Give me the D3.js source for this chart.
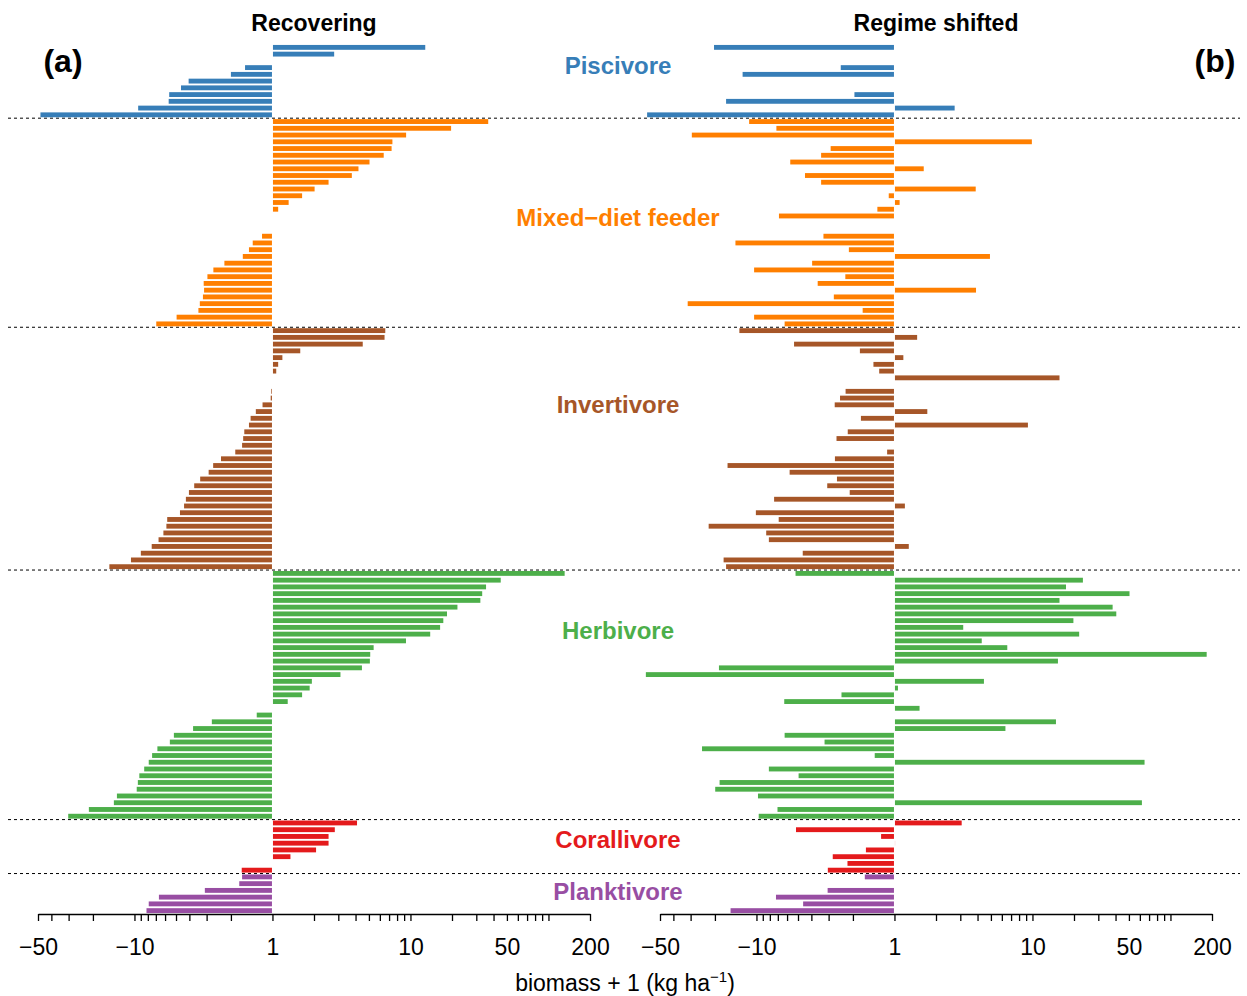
<!DOCTYPE html>
<html>
<head>
<meta charset="utf-8">
<script src="https://d3js.org/d3.v7.min.js"></script>
<style>
  body { margin: 0; background: #fff; }
  text { font-family: "Liberation Sans", Arial, Helvetica, sans-serif; }
</style>
</head>
<body>
<svg id="chart" width="1247" height="996"></svg>
<script>
// biomass + 1 values, one row per species (1 = no change, no bar)
const groupNames = ["Piscivore", "Mixed\u2212diet feeder", "Invertivore", "Herbivore", "Corallivore", "Planktivore"];
const groupColors = ["#377EB8", "#FF7F00", "#A65628", "#4DAF4A", "#E41A1C", "#984EA3"];

const piscivoreRec = [12.8, 2.8, 1, -1.58, -2.0, -4.05, -4.6, -5.6, -5.65, -9.4, -48];
const piscivoreShift = [-20.3, 1, 1, -2.45, -12.6, 1, 1, -1.95, -16.6, 2.73, -62];

const mixedRec = [36.6, 19.7, 9.3, 7.4, 7.3, 6.4, 5.05, 4.2, 3.76, 2.55, 2.02, 1.64, 1.31, 1.1, 1, 1, 1,
  -1.19, -1.39, -1.48, -1.64, -2.23, -2.68, -2.96, -3.15, -3.13, -3.19, -3.36, -3.44, -4.95, -6.95];
const mixedShift = [-11.3, -7.17, -29.4, 9.9, -2.9, -3.4, -5.69, 1.63, -4.45, -3.4, 3.88, -1.1, 1.09, -1.33, -6.87, 1, 1,
  -3.27, -14.2, -2.14, 4.92, -3.95, -10.4, -2.27, -3.6, 3.9, -2.75, -31.5, -1.7, -10.4, -6.25];

const invertRec = [6.57, 6.49, 4.51, 1.59, 1.18, 1.1, 1.065, 1, 1, -1.02, -1.03, -1.18, -1.32, -1.44, -1.48, -1.6,
  -1.63, -1.66, -1.86, -2.36, -2.69, -2.9, -3.34, -3.69, -4.03, -4.24, -4.37, -4.68, -5.79, -5.87, -6.17, -6.69,
  -7.5, -8.99, -10.6, -15.2];
const invertShift = [-13.3, 1.46, -5.34, -1.78, 1.16, -1.42, -1.29, 15.7, 1, -2.26, -2.48, -2.71, 1.73, -1.75, 9.27,
  -2.18, -2.63, 1, -1.13, -2.7, -16.2, -5.75, -2.61, -3.07, -2.11, -7.45, 1.19, -10.1, -6.9, -22.2, -8.5, -8.13,
  1.27, -4.62, -17.3, -16.6];

const herbRec = [131, 45.1, 35.3, 33.1, 32.1, 21.9, 18.4, 17.3, 16.4, 13.9, 9.28, 5.41, 5.11, 5.08, 4.45, 3.11,
  1.93, 1.86, 1.64, 1.29, 1, -1.3, -2.75, -3.76, -5.18, -5.54, -6.82, -7.45, -7.88, -8.5, -9.22, -9.45, -9.63,
  -13.4, -14.1, -21.4, -30.2];
const herbShift = [-5.21, 23.2, 17.5, 50.5, 15.7, 38.1, 40.5, 19.8, 3.15, 21.8, 4.29, 6.57, 183, 15.3, -18.7, -63.3,
  4.45, 1.06, -2.42, -6.29, 1.52, 1, 14.8, 6.37, -6.25, -3.21, -24.8, -1.39, 64.9, -8.13, -4.95, -18.5, -19.9,
  -9.75, 62.1, -7.04, -9.63];

const coralRec = [4.1, 2.83, 2.55, 2.55, 2.07, 1.35, 1, -1.67];
const coralShift = [3.07, -5.17, -1.25, 1.01, -1.61, -2.8, -2.19, -3.04];

const plankRec = [-1.66, -1.74, -3.09, -6.65, -7.88, -8.18];
const plankShift = [-1.64, 1, -3.05, -7.22, -4.59, -15.4];

const recovering = [piscivoreRec, mixedRec, invertRec, herbRec, coralRec, plankRec];
const shifted = [piscivoreShift, mixedShift, invertShift, herbShift, coralShift, plankShift];

const majorTicks = [-50, -10, 1, 10, 50, 200];
const minorTicks = [-40, -30, -20, -9, -8, -7, -6, -5, -4, -3, -2, 2, 3, 4, 5, 6, 7, 8, 9, 20, 30, 40, 60, 70, 80, 90, 100];

// label position, in rows from the top
const labelRows = [3.3, 25.8, 53.5, 87, 118, 125.7];

const svg = d3.select("#chart");
const tr = v => Math.sign(v) * Math.log10(Math.abs(v));

// rows
let rows = [];
let bounds = [];
recovering.forEach((g, gi) => {
  g.forEach((v, i) => rows.push({ group: gi, rec: v, shift: shifted[gi][i] }));
  bounds.push(rows.length);
});

const y = d3.scaleBand()
  .domain(d3.range(rows.length))
  .range([44, 914])
  .paddingInner(0.28)
  .paddingOuter(0.14);
const step = y.step();
const rowY = r => 44 + r * step;

const panels = [
  { x0: 38, key: "rec", title: "Recovering", tag: "(a)", tagX: 63 },
  { x0: 660, key: "shift", title: "Regime shifted", tag: "(b)", tagX: 1215 }
];

// dashed separators
bounds.slice(0, -1).forEach(b => {
  svg.append("line")
    .attr("x1", 8).attr("x2", 1240)
    .attr("y1", rowY(b)).attr("y2", rowY(b))
    .attr("stroke", "#000").attr("stroke-width", 1)
    .attr("stroke-dasharray", "3,3");
});

panels.forEach(p => {
  const x = d3.scaleLinear().domain([tr(-50), tr(200)]).range([p.x0, p.x0 + 552]);
  const c = x(0);

  svg.append("g").selectAll("rect")
    .data(rows.filter(d => d[p.key] !== 1))
    .join("rect")
    .attr("x", d => d[p.key] > 0 ? c + 0.5 : x(tr(d[p.key])))
    .attr("width", d => Math.abs(x(tr(d[p.key])) - c) - 0.5)
    .attr("y", (d, i) => y(rows.indexOf(d)))
    .attr("height", y.bandwidth())
    .attr("fill", d => groupColors[d.group]);

  const axis = d3.axisBottom(x)
    .tickValues(majorTicks.concat(minorTicks).map(tr))
    .tickSize(7)
    .tickSizeOuter(0)
    .tickPadding(18)
    .tickFormat(t => {
      const v = majorTicks.find(m => Math.abs(tr(m) - t) < 1e-9);
      return v === undefined ? "" : (v < 0 ? "\u2212" + Math.abs(v) : String(v));
    });

  const ax = svg.append("g").attr("transform", "translate(0,914)").call(axis);
  ax.select(".domain").attr("stroke-width", 1.3);
  ax.selectAll(".tick line").attr("stroke-width", 1.3);
  ax.selectAll("text").attr("font-size", 23).attr("fill", "#000")
    .attr("font-family", "'Liberation Sans', Arial, sans-serif");

  svg.append("text")
    .attr("x", (p.x0 + p.x0 + 552) / 2).attr("y", 31)
    .attr("text-anchor", "middle")
    .attr("font-size", 23).attr("font-weight", "bold")
    .text(p.title);

  svg.append("text")
    .attr("x", p.tagX).attr("y", 72)
    .attr("text-anchor", "middle")
    .attr("font-size", 32).attr("font-weight", "bold")
    .text(p.tag);
});

// group labels
groupNames.forEach((n, i) => {
  svg.append("text")
    .attr("x", 618).attr("y", rowY(labelRows[i]) + 8)
    .attr("text-anchor", "middle")
    .attr("font-size", 24).attr("font-weight", "bold")
    .attr("fill", groupColors[i])
    .text(n);
});

// axis title
const t = svg.append("text")
  .attr("x", 625).attr("y", 991)
  .attr("text-anchor", "middle")
  .attr("font-size", 23);
t.append("tspan").text("biomass + 1 (kg ha");
t.append("tspan").attr("dy", -9).attr("font-size", 15).text("\u22121");
t.append("tspan").attr("dy", 9).text(")");
</script>
</body>
</html>
